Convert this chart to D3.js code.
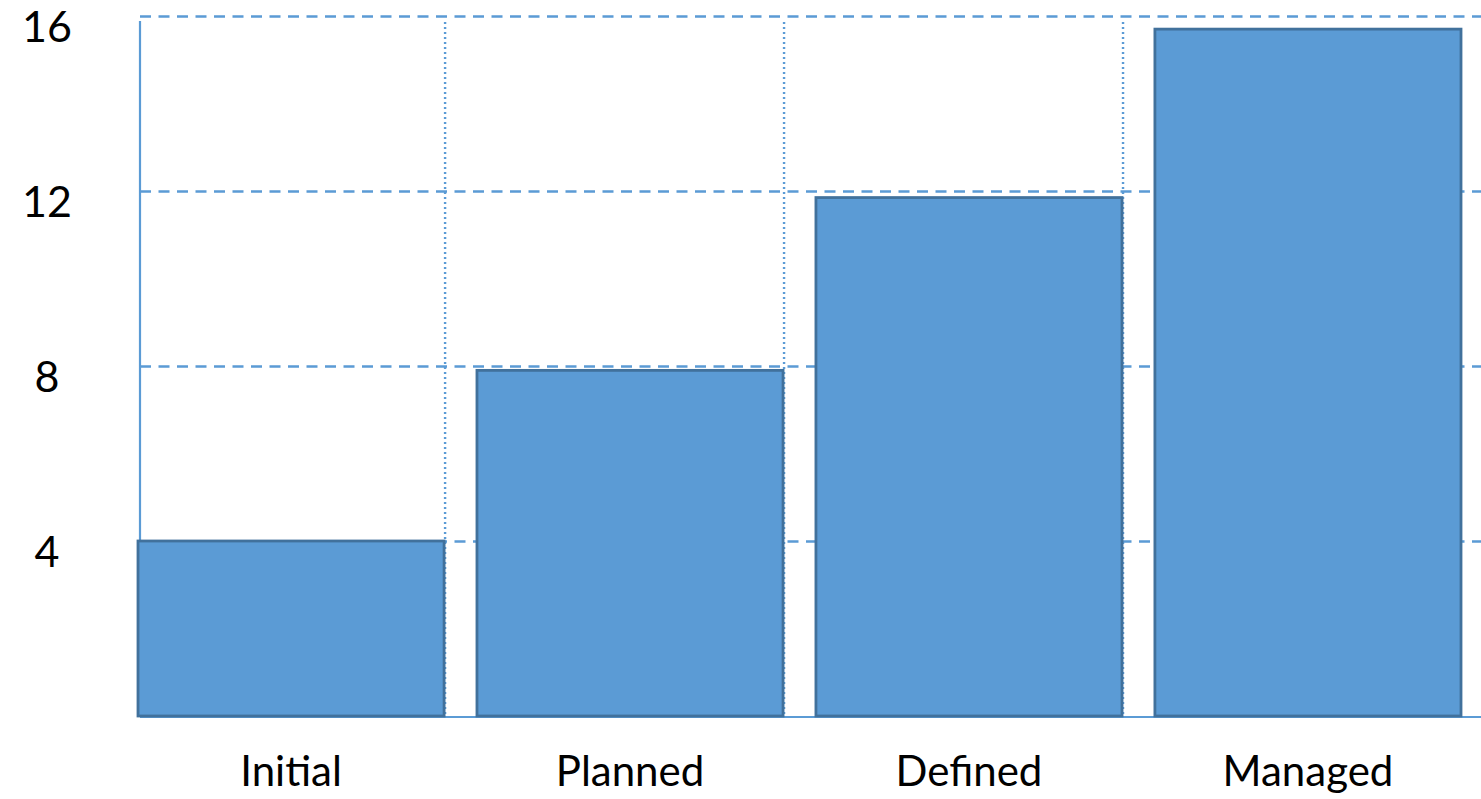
<!DOCTYPE html>
<html>
<head>
<meta charset="utf-8">
<script src="https://cdn.jsdelivr.net/npm/d3@7"></script>
<style>
  html, body { margin: 0; padding: 0; background: #ffffff; }
  svg { display: block; }
</style>
</head>
<body>
<svg id="chart" width="1481" height="799"></svg>
<script>
// ---- data ----
const categories = ["Initial", "Planned", "Defined", "Managed"];
const values = [4, 7.9, 11.85, 15.7];
const yTicks = [4, 8, 12, 16];

// ---- layout ----
const W = 1481, H = 799;
const plotLeft = 140, plotRight = 1481;
const svg = d3.select("#chart");

const x = d3.scaleBand()
  .domain(categories)
  .range([138, 1461])
  .paddingInner(0.097)
  .paddingOuter(0);

const y = d3.scaleLinear()
  .domain([0, 16])
  .range([716, 16]);

const blue = "#5b9bd5";
const dark = "#41719c";
const font = "Lato, 'Open Sans', sans-serif";

// horizontal dashed gridlines
const grid = svg.append("g")
  .attr("transform", `translate(${plotLeft},0)`)
  .call(d3.axisLeft(y).tickValues(yTicks).tickSize(-(plotRight - plotLeft)).tickFormat(""));
grid.select(".domain").remove();
grid.selectAll(".tick line")
  .attr("stroke", blue)
  .attr("stroke-width", 2.6)
  .attr("stroke-dasharray", "11,7.5");

// vertical dotted separators (after first three bands)
svg.append("g").selectAll("line")
  .data(categories.slice(0, 3))
  .join("line")
  .attr("x1", d => x(d) + x.bandwidth() + 1)
  .attr("x2", d => x(d) + x.bandwidth() + 1)
  .attr("y1", y(16) + 6)
  .attr("y2", y(0))
  .attr("stroke", blue)
  .attr("stroke-width", 2.4)
  .attr("stroke-dasharray", "2,3");

// left axis line
svg.append("line")
  .attr("x1", plotLeft).attr("x2", plotLeft)
  .attr("y1", y(16) + 5).attr("y2", y(0))
  .attr("stroke", blue).attr("stroke-width", 2.2);

// bottom axis line
svg.append("line")
  .attr("x1", plotLeft).attr("x2", plotRight)
  .attr("y1", y(0) + 1).attr("y2", y(0) + 1)
  .attr("stroke", blue).attr("stroke-width", 2.2);

// bars
svg.append("g").selectAll("rect")
  .data(categories.map((c, i) => ({ c, v: values[i] })))
  .join("rect")
  .attr("x", d => x(d.c))
  .attr("y", d => y(d.v))
  .attr("width", x.bandwidth())
  .attr("height", d => y(0) - y(d.v))
  .attr("fill", blue)
  .attr("stroke", dark)
  .attr("stroke-width", 2.8);

// y tick labels
const yLab = svg.append("g")
  .attr("transform", "translate(70,0)")
  .call(d3.axisLeft(y).tickValues(yTicks).tickSize(0).tickPadding(0));
yLab.select(".domain").remove();
yLab.selectAll(".tick text")
  .attr("x", -23)
  .attr("dy", "0.35em")
  .attr("transform", "translate(0,10)")
  .attr("text-anchor", "middle")
  .attr("font-family", font)
  .attr("font-size", 43)
  .attr("fill", "#000");

// x category labels
const xLab = svg.append("g")
  .attr("transform", "translate(0,786)")
  .call(d3.axisBottom(x).tickSize(0).tickPadding(0));
xLab.select(".domain").remove();
xLab.selectAll(".tick text")
  .attr("y", 0)
  .attr("dy", 0)
  .attr("font-family", font)
  .attr("font-size", 42)
  .attr("fill", "#000");
</script>
</body>
</html>
